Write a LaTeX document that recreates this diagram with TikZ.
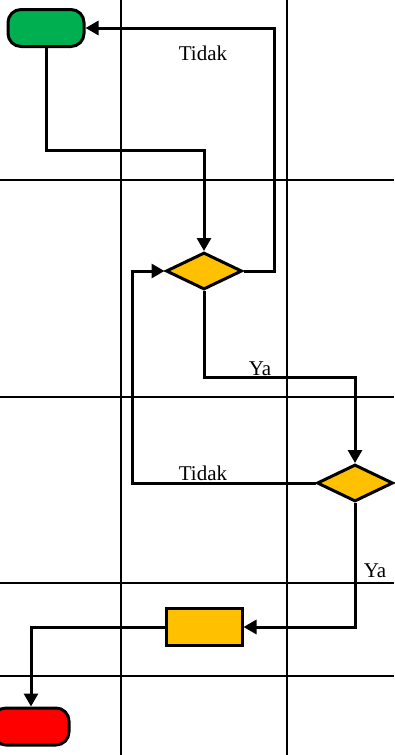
\documentclass[tikz,border=0pt]{standalone}
\usepackage{fontspec}
\setmainfont{Liberation Serif}
\usepackage{xcolor}
\usepackage{tikz}
\usetikzlibrary{arrows.meta,calc,positioning,shapes.geometric}
\definecolor{fcgreen}{HTML}{00B050}
\definecolor{fcgold}{HTML}{FFC000}
\definecolor{fcred}{HTML}{FF0000}
\tikzset{
  lane/.style={draw=black,line width=2pt},
  term/.style={draw=black,line width=3pt,rounded corners=13pt,minimum width=76pt,
    minimum height=37pt,inner sep=0pt},
  decide/.style={diamond,draw=black,line width=3pt,fill=fcgold,minimum width=76pt,
    minimum height=37pt,inner sep=0pt},
  proc/.style={draw=black,line width=3pt,fill=fcgold,minimum width=76pt,
    minimum height=37pt,inner sep=0pt},
  flow/.style={-{Triangle[length=13pt,width=14pt]},line width=3pt,draw=black},
  lbl/.style={anchor=base,inner sep=0pt,font=\fontsize{21}{25}\selectfont}
}
\begin{document}
\begin{tikzpicture}[x=1pt,y=-1pt]
    \useasboundingbox (0,0) rectangle (394,755);
    \draw[lane] (121,0) -- (121,755);
    \draw[lane] (287,0) -- (287,755);
    \foreach \yy in {180,397,583,676}
      \draw[lane] (0,\yy) -- (394,\yy);
    \node[term,fill=fcgreen] (start) at (46,28) {};
    \node[decide] (d1) at (204,271) {};
    \node[decide] (d2) at (355,483) {};
    \node[proc] (act) at (204,627) {};
    \node[term,fill=fcred] (stop) at (31,726.5) {};
    \coordinate (tidakA) at (274,150);
    \coordinate (tidakB) at (132,400);
    \draw[flow] (start) -- (start |- 0,150) -| (d1);
    \draw[flow] (d1.east) -| (tidakA) |- (start.east);
    \draw[flow] (d1.south) |- (d2 |- 0,377) -- (d2.north);
    \draw[flow] (d2.west) -| (tidakB) |- (d1.west);
    \draw[flow] (d2.south) |- (act.east);
    \draw[flow] (act.west) -| (stop.north);
    \node[lbl] (t1) at (203,60) {Tidak};
    \node[lbl] (y1) at (260,375) {Ya};
    \node[lbl] (t2) at (203,480) {Tidak};
    \node[lbl] (y2) at (375,577) {Ya};
  \end{tikzpicture}
\end{document}
